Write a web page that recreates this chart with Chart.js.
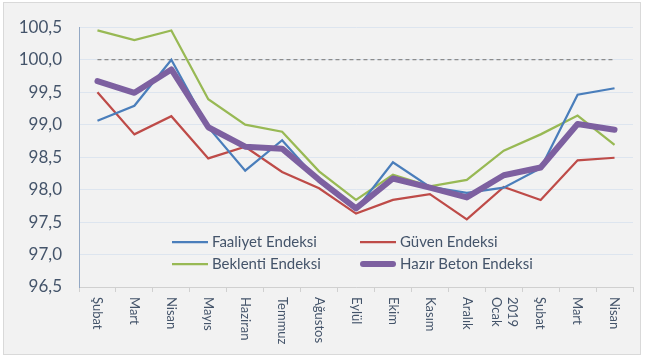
<!DOCTYPE html>
<html>
<head>
<meta charset="utf-8">
<script src="https://cdn.jsdelivr.net/npm/chart.js@4/dist/chart.umd.min.js"></script>
<style>
html,body{margin:0;padding:0;background:#fff;}
#wrap{width:647px;height:357px;position:relative;}
</style>
</head>
<body>
<div id="wrap"><canvas id="c" width="647" height="357"></canvas></div>
<script>
const categories = ['Şubat','Mart','Nisan','Mayıs','Haziran','Temmuz','Ağustos','Eylül','Ekim','Kasım','Aralık',['2019','Ocak'],'Şubat','Mart','Nisan'];
const faaliyet = [99.06, 99.29, 100.0, 98.96, 98.29, 98.76, 98.12, 97.69, 98.42, 98.04, 97.95, 98.03, 98.33, 99.46, 99.56];
const guven    = [99.50, 98.85, 99.13, 98.48, 98.66, 98.27, 98.02, 97.63, 97.84, 97.93, 97.54, 98.04, 97.84, 98.45, 98.49];
const beklenti = [100.45, 100.30, 100.45, 99.39, 99.00, 98.89, 98.28, 97.84, 98.23, 98.05, 98.15, 98.60, 98.85, 99.14, 98.69];
const hazirBeton = [99.67, 99.49, 99.85, 98.96, 98.66, 98.63, 98.15, 97.71, 98.17, 98.03, 97.88, 98.22, 98.34, 99.01, 98.92];
const reference = categories.map(() => 100);
const seriesNames = ['Faaliyet Endeksi','Güven Endeksi','Beklenti Endeksi','Hazır Beton Endeksi'];
const yMin = 96.5, yMax = 100.5, yStep = 0.5;

const TEXT = '#44546A';
const FONT = 'Lato, "Liberation Sans", sans-serif';

const bgPlugin = {
  id: 'bg',
  beforeDraw(chart) {
    const ctx = chart.ctx;
    ctx.save();
    ctx.fillStyle = '#ffffff';
    ctx.fillRect(0, 0, chart.width, chart.height);
    ctx.fillStyle = '#f2f2f2';
    ctx.fillRect(3.5, 2.5, 637, 352);
    ctx.strokeStyle = '#d9d9d9';
    ctx.lineWidth = 1;
    ctx.strokeRect(3.5, 2.5, 637, 352);
    ctx.restore();
  }
};

const xLabelPlugin = {
  id: 'xlabels',
  afterDraw(chart) {
    const ctx = chart.ctx;
    const xs = chart.scales.x;
    const top = xs.top + 10;
    ctx.save();
    ctx.fillStyle = TEXT;
    ctx.font = '13px ' + FONT;
    ctx.textAlign = 'left';
    ctx.textBaseline = 'middle';
    categories.forEach((lab, i) => {
      const x = xs.getPixelForValue(i);
      const lines = Array.isArray(lab) ? lab : [lab];
      const lh = 16;
      lines.forEach((ln, k) => {
        const off = (lines.length - 1) / 2 * lh - k * lh;
        ctx.save();
        ctx.translate(x + off, top);
        ctx.rotate(Math.PI / 2);
        ctx.fillText(ln, 0, 0);
        ctx.restore();
      });
    });
    ctx.restore();
  }
};

const legendPlugin = {
  id: 'customLegend',
  afterDatasetsDraw(chart) {
    const ctx = chart.ctx;
    const items = [
      {ds: 0, x: 172, y: 242},
      {ds: 1, x: 360, y: 242},
      {ds: 2, x: 172, y: 264},
      {ds: 3, x: 360, y: 264}
    ];
    ctx.save();
    ctx.font = '15px ' + FONT;
    ctx.textBaseline = 'middle';
    ctx.textAlign = 'left';
    items.forEach(it => {
      const d = chart.data.datasets[it.ds];
      ctx.strokeStyle = d.borderColor;
      ctx.lineWidth = d.borderWidth;
      ctx.lineCap = it.ds === 3 ? 'round' : 'butt';
      ctx.beginPath();
      const pad = it.ds === 3 ? 3 : 0;
      ctx.moveTo(it.x + pad, it.y);
      ctx.lineTo(it.x + 36 - pad, it.y);
      ctx.stroke();
      ctx.fillStyle = TEXT;
      ctx.fillText(d.label, it.x + 40, it.y);
    });
    ctx.restore();
  }
};

new Chart(document.getElementById('c'), {
  type: 'line',
  data: {
    labels: categories,
    datasets: [
      {label: seriesNames[0], data: faaliyet, borderColor: '#4A7EBB', borderWidth: 2.25, pointRadius: 0, tension: 0, order: 2},
      {label: seriesNames[1], data: guven, borderColor: '#BE4B48', borderWidth: 2.25, pointRadius: 0, tension: 0, order: 3},
      {label: seriesNames[2], data: beklenti, borderColor: '#98B954', borderWidth: 2.25, pointRadius: 0, tension: 0, order: 4},
      {label: seriesNames[3], data: hazirBeton, borderColor: '#7D60A0', borderWidth: 6, pointRadius: 0, tension: 0, borderJoinStyle: 'round', borderCapStyle: 'round', order: 1},
      {label: 'ref', data: reference, borderColor: '#8c8c8c', borderWidth: 1.25, borderDash: [4, 3], pointRadius: 0, tension: 0, order: 5}
    ]
  },
  options: {
    responsive: false,
    animation: false,
    events: [],
    layout: {padding: {left: 0, right: 14, top: 18, bottom: 0}},
    plugins: {legend: {display: false}, tooltip: {enabled: false}},
    scales: {
      x: {
        offset: true,
        grid: {display: true, drawOnChartArea: false, offset: true, tickLength: 5, color: '#d0d0d0'},
        border: {display: true, color: '#d0d0d0'},
        ticks: {display: false},
        afterFit(s) { s.height = 70; }
      },
      y: {
        min: yMin, max: yMax,
        grid: {color: '#dde5ef', drawTicks: false},
        border: {display: true, color: '#93a8c4'},
        ticks: {
          stepSize: yStep,
          padding: 17,
          color: TEXT,
          font: {size: 17, family: FONT},
          callback: v => v.toFixed(1).replace('.', ',')
        },
        afterFit(s) { s.width = 79; }
      }
    }
  },
  plugins: [bgPlugin, xLabelPlugin, legendPlugin]
});
</script>
</body>
</html>
